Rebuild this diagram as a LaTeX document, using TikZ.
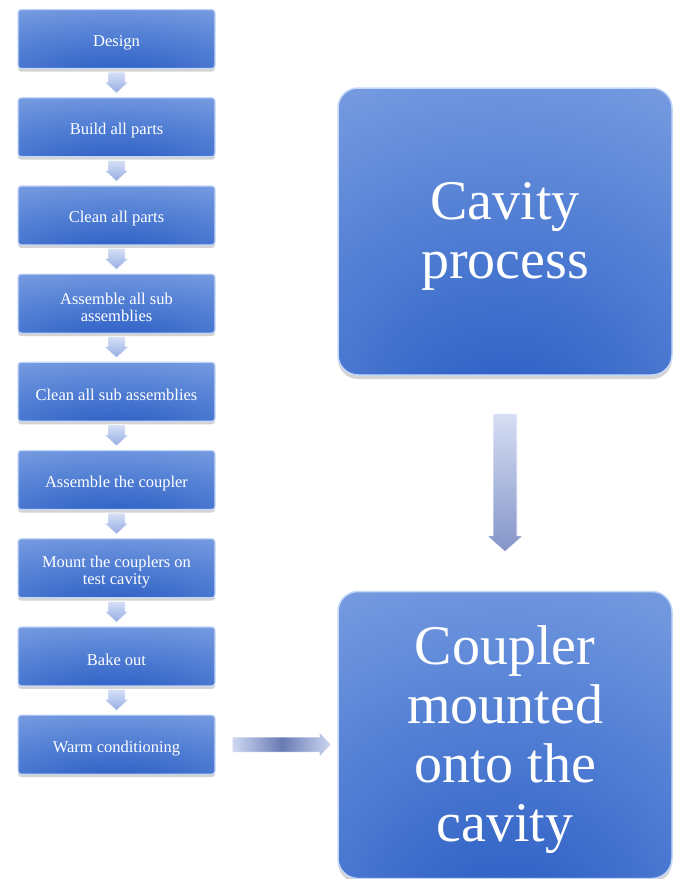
\documentclass[tikz,border=0pt]{standalone}
\usepackage{fontspec}
\setmainfont{Liberation Serif}
\usetikzlibrary{shadows,calc}
\definecolor{cDark}{RGB}{34,84,190}
\definecolor{cMid}{RGB}{78,124,211}
\definecolor{cLight}{RGB}{130,164,228}
\definecolor{cPale}{RGB}{182,200,240}
\definecolor{cEdge}{RGB}{198,216,248}
\definecolor{arTop}{RGB}{214,224,246}
\definecolor{arBot}{RGB}{150,172,226}
\definecolor{bigTop}{RGB}{214,222,244}
\definecolor{bigBot}{RGB}{132,148,200}
\definecolor{hMid}{RGB}{104,122,180}
\definecolor{hEnd}{RGB}{206,216,242}
\pgfdeclareradialshading{boxshade}{\pgfpoint{0bp}{-40bp}}{color(0bp)=(cDark); color(28bp)=(cMid); color(58bp)=(cLight); color(94bp)=(cPale); color(100bp)=(cPale)}
\tikzset{
  stepbox/.style={rectangle, rounded corners=3pt, minimum width=197pt, minimum height=59pt,
    shading=boxshade, draw=cEdge, line width=1.2pt,
    drop shadow={shadow xshift=0pt, shadow yshift=-3pt, opacity=0.28, fill=black!60}},
  steptext/.style={text=white, align=center, inner sep=0pt, yshift=-3.5pt,
    font={\fontsize{16.5}{17}\selectfont}},
  bigbox/.style={rectangle, rounded corners=20pt, minimum width=334pt, minimum height=287pt,
    shading=boxshade, draw=cEdge, line width=1.5pt,
    drop shadow={shadow xshift=0pt, shadow yshift=-4pt, opacity=0.28, fill=black!60}},
  bigtext/.style={text=white, align=center, inner sep=0pt, yshift=-5pt,
    font={\fontsize{56}{59}\selectfont}},
  smallarr/.style={top color=arTop, bottom color=arBot, draw=white, line width=0.4pt},
  bigarr/.style={top color=bigTop, bottom color=bigBot, draw=white, line width=0.6pt},
  horarr/.style={left color=hEnd, right color=hEnd, middle color=hMid, draw=white, line width=0.6pt}
}
\newcommand\mkstep[3]{\node[stepbox, label={[steptext]center:{#3}}] (#1) at (116.5,#2) {};}
\newcommand\mkdownarr[2]{%
  \shade[smallarr] ($(#1.south)+(-8.5,3)$) -- ($(#2.north)+(-8.5,-15)$) -- ($(#2.north)+(-12,-15)$)
    -- ($(#2.north)+(0,-4)$) -- ($(#2.north)+(12,-15)$) -- ($(#2.north)+(8.5,-15)$)
    -- ($(#1.south)+(8.5,3)$) -- cycle;}
\begin{document}
\begin{tikzpicture}[x=1pt,y=-1pt]
\useasboundingbox (0,0) rectangle (673,879);
\fill[white] (0,0) rectangle (673,879);
\mkstep{b1}{39.0}{Design}
\mkstep{b2}{127.2}{Build all parts}
\mkstep{b3}{215.4}{Clean all parts}
\mkstep{b4}{303.6}{Assemble all sub\\assemblies}
\mkstep{b5}{391.8}{Clean all sub assemblies}
\mkstep{b6}{480.0}{Assemble the coupler}
\mkstep{b7}{568.2}{Mount the couplers on\\test cavity}
\mkstep{b8}{656.4}{Bake out}
\mkstep{b9}{744.6}{Warm conditioning}
\node[bigbox, label={[bigtext]center:{Cavity\\process}}] (cav) at (505,231.5) {};
\node[bigbox, label={[bigtext]center:{Coupler\\mounted\\onto the\\cavity}}] (coup) at (505,735) {};
\mkdownarr{b1}{b2}
\mkdownarr{b2}{b3}
\mkdownarr{b3}{b4}
\mkdownarr{b4}{b5}
\mkdownarr{b5}{b6}
\mkdownarr{b6}{b7}
\mkdownarr{b7}{b8}
\mkdownarr{b8}{b9}
\shade[bigarr] ($(cav.south)+(-12,38)$) -- ($(coup.north)+(-12,-55)$) -- ($(coup.north)+(-18,-55)$)
  -- ($(coup.north)+(0,-39)$) -- ($(coup.north)+(18,-55)$) -- ($(coup.north)+(12,-55)$)
  -- ($(cav.south)+(12,38)$) -- cycle;
\shade[horarr] ($(b9.east)+(17,-7.5)$) -- ($(coup.west|-b9.east)+(-18,-7.5)$) -- ($(coup.west|-b9.east)+(-18,-12.5)$)
  -- ($(coup.west|-b9.east)+(-6,0)$) -- ($(coup.west|-b9.east)+(-18,12.5)$) -- ($(coup.west|-b9.east)+(-18,7.5)$)
  -- ($(b9.east)+(17,7.5)$) -- cycle;
\end{tikzpicture}
\end{document}
